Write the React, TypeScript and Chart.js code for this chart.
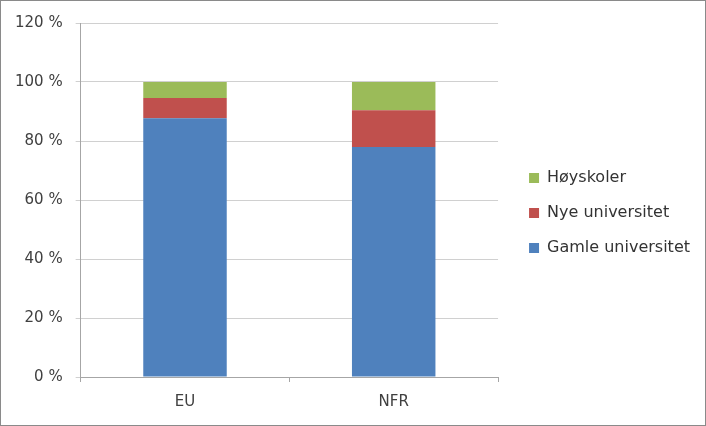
import React, { useEffect, useRef } from "react";
import { Chart, registerables } from "chart.js";

Chart.register(...registerables);

const categories = ["EU", "NFR"];
const gamleUniversitet = [87.7, 78];
const nyeUniversitet = [6.9, 12.4];
const hoyskoler = [5.4, 9.6];
const yTicks = [0, 20, 40, 60, 80, 100, 120];

export default function App() {
  const ref = useRef<HTMLCanvasElement | null>(null);
  useEffect(() => {
    document.body.style.margin = "0";
    const ctx = ref.current!;
    const family = "'DejaVu Sans', sans-serif";
    const tickFont = { family, size: 15 };
    const chart = new Chart(ctx, {
      type: "bar",
      data: {
        labels: categories,
        datasets: [
          { label: "Gamle universitet", data: gamleUniversitet, backgroundColor: "#4f81bd" },
          { label: "Nye universitet", data: nyeUniversitet, backgroundColor: "#c0504d" },
          { label: "Høyskoler", data: hoyskoler, backgroundColor: "#9bbb59" },
        ],
      },
      options: {
        responsive: false,
        animation: false,
        layout: { padding: { top: 21, right: 5, left: 1, bottom: 3 } },
        datasets: { bar: { barPercentage: 0.4, categoryPercentage: 1 } },
        plugins: {
          tooltip: { enabled: false },
          legend: {
            position: "right",
            align: "start",
            reverse: true,
            maxWidth: 260,
            title: {
              display: true,
              text: " ",
              color: "rgba(0,0,0,0)",
              padding: 0,
              font: { family, size: 2, lineHeight: "129px" },
            },
            labels: {
              font: { family, size: 16 },
              color: "#333",
              boxWidth: 10,
              boxHeight: 10,
              padding: 19,
            },
          },
        },
        scales: {
          x: {
            stacked: true,
            grid: { drawOnChartArea: false, tickLength: 5, color: "#a6a6a6", offset: true },
            border: { color: "#a6a6a6" },
            ticks: { font: tickFont, color: "#404040", padding: 11 },
          },
          y: {
            stacked: true,
            min: 0,
            max: 120,
            afterBuildTicks: (axis: any) => {
              axis.ticks = yTicks.map((v) => ({ value: v }));
            },
            grid: { color: "#d0d0d0", tickLength: 5 },
            border: { color: "#a6a6a6" },
            ticks: { font: tickFont, color: "#404040", padding: 13, callback: (v: any) => v + " %" },
          },
          gap: {
            type: "linear",
            position: "right",
            display: true,
            grid: { display: false },
            border: { display: false },
            ticks: { display: false },
            afterFit: (s: any) => {
              s.width = 12;
            },
          },
        },
      },
    });
    return () => chart.destroy();
  }, []);
  return (
    <div
      style={{
        position: "absolute",
        left: 0,
        top: 0,
        width: 706,
        height: 426,
        boxSizing: "border-box",
        border: "1px solid #8a8a8a",
        background: "#fff",
      }}
    >
      <canvas ref={ref} width={704} height={424} style={{ display: "block" }} />
    </div>
  );
}
